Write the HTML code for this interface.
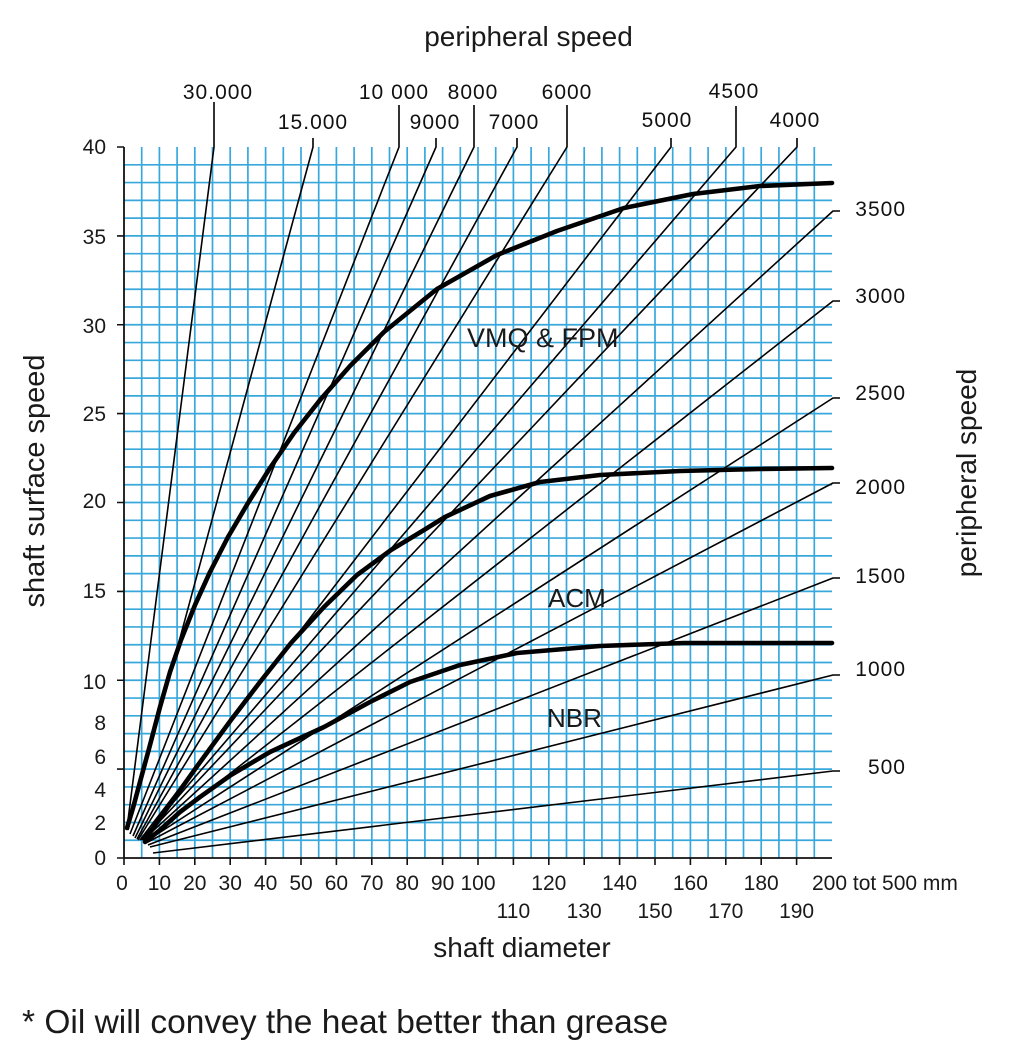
<!DOCTYPE html>
<html>
<head>
<meta charset="utf-8">
<style>
html,body{margin:0;padding:0;background:#fff;}
svg{display:block;}
</style>
</head>
<body>
<svg width="1024" height="1062" viewBox="0 0 1024 1062" xmlns="http://www.w3.org/2000/svg" font-family="'Liberation Sans', Arial, sans-serif">
<rect width="1024" height="1062" fill="#fff"/>

<!-- grid -->
<path fill="none" stroke="#38a8dc" stroke-width="1.7" d="M141.7 147v711m17.7-711v711m17.7-711v711m17.7-711v711m17.7-711v711m17.7-711v711m17.7-711v711m17.7-711v711m17.7-711v711m17.7-711v711m17.7-711v711m17.7-711v711m17.7-711v711m17.7-711v711m17.7-711v711m17.7-711v711m17.7-711v711m17.7-711v711m17.7-711v711m17.7-711v711m17.7-711v711m17.7-711v711m17.7-711v711m17.7-711v711m17.7-711v711m17.7-711v711m17.7-711v711m17.7-711v711m17.7-711v711m17.7-711v711m17.7-711v711m17.7-711v711m17.7-711v711m17.7-711v711m17.7-711v711m17.7-711v711m17.7-711v711m17.7-711v711m17.7-711v711"/>
<path fill="none" stroke="#38a8dc" stroke-width="1.7" d="M124 164.8h708m-708 17.775h708m-708 17.775h708m-708 17.775h708m-708 17.775h708m-708 17.775h708m-708 17.775h708m-708 17.775h708m-708 17.775h708m-708 17.775h708m-708 17.775h708m-708 17.775h708m-708 17.775h708m-708 17.775h708m-708 17.775h708m-708 17.775h708m-708 17.775h708m-708 17.775h708m-708 17.775h708m-708 17.775h708m-708 17.775h708m-708 17.775h708m-708 17.775h708m-708 17.775h708m-708 17.775h708m-708 17.775h708m-708 17.775h708m-708 17.775h708m-708 17.775h708m-708 17.775h708m-708 17.775h708m-708 17.775h708m-708 17.775h708m-708 17.775h708m-708 17.775h708m-708 17.775h708m-708 17.775h708m-708 17.775h708m-708 17.775h708"/>

<!-- axes -->
<path fill="none" stroke="#111" stroke-width="1.8" d="M124 147V858H832"/>
<path fill="none" stroke="#111" stroke-width="1.6" d="M117 147H124M117 235.9H124M117 324.75H124M117 413.6H124M117 502.5H124M117 591.4H124M117 680.25H124M117 769.1H124M117 858H124
M124 858v7M159.4 858v7M194.8 858v7M230.2 858v7M265.6 858v7M301 858v7M336.4 858v7M371.8 858v7M407.2 858v7M442.6 858v7M478 858v7M513.4 858v7M548.8 858v7M584.2 858v7M619.6 858v7M655 858v7M690.4 858v7M725.8 858v7M761.2 858v7M796.6 858v7"/>

<!-- rpm lines -->
<g fill="none" stroke="#000" stroke-width="1.6" stroke-linejoin="round">
<polyline points="127,828 214,147 214,102"/>
<polyline points="128,830 313,147 313,138"/>
<polyline points="130,834 399,147 399,105"/>
<polyline points="133,836 436,147 436,138"/>
<polyline points="135,838 474,147 474,105"/>
<polyline points="137,839 517,147 517,138"/>
<polyline points="138,840 567,147 567,105"/>
<polyline points="140,840 671,147 671,138"/>
<polyline points="141,840 736,147 736,106"/>
<polyline points="142,840 797,147 797,138"/>
<polyline points="143,840 833,211 840,211"/>
<polyline points="144,841 833,301 840,301"/>
<polyline points="145,842 833,398 840,398"/>
<polyline points="146,843 833,483 840,483"/>
<polyline points="148,845 833,578 840,578"/>
<polyline points="150,847 833,675 840,675"/>
<polyline points="153,853 833,771 840,771"/>
</g>

<!-- thick curves -->
<g fill="none" stroke="#000" stroke-width="4.6" stroke-linejoin="round" stroke-linecap="round">
<polyline points="127,828 133,808 140,782 150,745 160,707 170,672 181,640 195,605 210,572 228,537 248,503 270,468 294,433 320,400 350,366 384,332 437,289 497,255 557,231 624,208 693,194 760,186 832,183"/>
<polyline points="145,840 160,818 178,793 198,765 231,720 260,682 291,643 324,607 357,575 391,550 424,530 445,517 490,496 540,482 600,475 680,471 760,469 832,468"/>
<polyline points="145,842 160,830 180,812 200,797 231,775 270,752 324,727 370,702 410,682 460,665 517,653 600,646 684,643 832,643"/>
</g>

<!-- curve labels -->
<g fill="#1a1a1a">
<text x="467" y="347" font-size="27">VMQ &amp; FPM</text>
<text x="548" y="607" font-size="26">ACM</text>
<text x="547" y="727" font-size="26">NBR</text>
</g>

<!-- top rpm labels -->
<g fill="#111" font-size="21" letter-spacing="1" text-anchor="middle">
<text x="218" y="99">30.000</text>
<text x="313" y="129">15.000</text>
<text x="394" y="99">10 000</text>
<text x="435" y="129">9000</text>
<text x="473" y="99">8000</text>
<text x="514" y="129">7000</text>
<text x="567" y="99">6000</text>
<text x="667" y="127">5000</text>
<text x="734" y="98">4500</text>
<text x="795" y="127">4000</text>
</g>

<!-- right rpm labels -->
<g fill="#111" font-size="21" letter-spacing="1" text-anchor="end">
<text x="906" y="216">3500</text>
<text x="906" y="303">3000</text>
<text x="906" y="400">2500</text>
<text x="906" y="494">2000</text>
<text x="906" y="583">1500</text>
<text x="906" y="676">1000</text>
<text x="906" y="774">500</text>
</g>

<!-- y-axis labels -->
<g fill="#1a1a1a" font-size="21" text-anchor="end">
<text x="106" y="154">40</text>
<text x="106" y="244">35</text>
<text x="106" y="333">30</text>
<text x="106" y="421">25</text>
<text x="106" y="508">20</text>
<text x="106" y="598">15</text>
<text x="106" y="689">10</text>
<text x="106" y="730">8</text>
<text x="106" y="764">6</text>
<text x="106" y="797">4</text>
<text x="106" y="830">2</text>
<text x="106" y="865">0</text>
</g>

<!-- x-axis labels -->
<g fill="#1a1a1a" font-size="21" text-anchor="middle">
<text x="122" y="890">0</text>
<text x="159.4" y="890">10</text>
<text x="194.8" y="890">20</text>
<text x="230.2" y="890">30</text>
<text x="265.6" y="890">40</text>
<text x="301" y="890">50</text>
<text x="336.4" y="890">60</text>
<text x="371.8" y="890">70</text>
<text x="407.2" y="890">80</text>
<text x="442.6" y="890">90</text>
<text x="478" y="890">100</text>
<text x="548.8" y="890">120</text>
<text x="619.6" y="890">140</text>
<text x="690.4" y="890">160</text>
<text x="761.2" y="890">180</text>
<text x="513.4" y="918">110</text>
<text x="584.2" y="918">130</text>
<text x="655" y="918">150</text>
<text x="725.8" y="918">170</text>
<text x="796.6" y="918">190</text>
<text x="812" y="890" text-anchor="start">200 tot 500 mm</text>
</g>

<!-- axis titles -->
<g fill="#1a1a1a">
<text x="528.5" y="46" font-size="28" text-anchor="middle">peripheral speed</text>
<text transform="translate(44,481) rotate(-90)" font-size="29" text-anchor="middle">shaft surface speed</text>
<text transform="translate(976,473) rotate(-90)" font-size="28" text-anchor="middle">peripheral speed</text>
<text x="522" y="957" font-size="28" text-anchor="middle">shaft diameter</text>
<text x="22" y="1033" font-size="33.5">* Oil will convey the heat better than grease</text>
</g>
</svg>
</body>
</html>
